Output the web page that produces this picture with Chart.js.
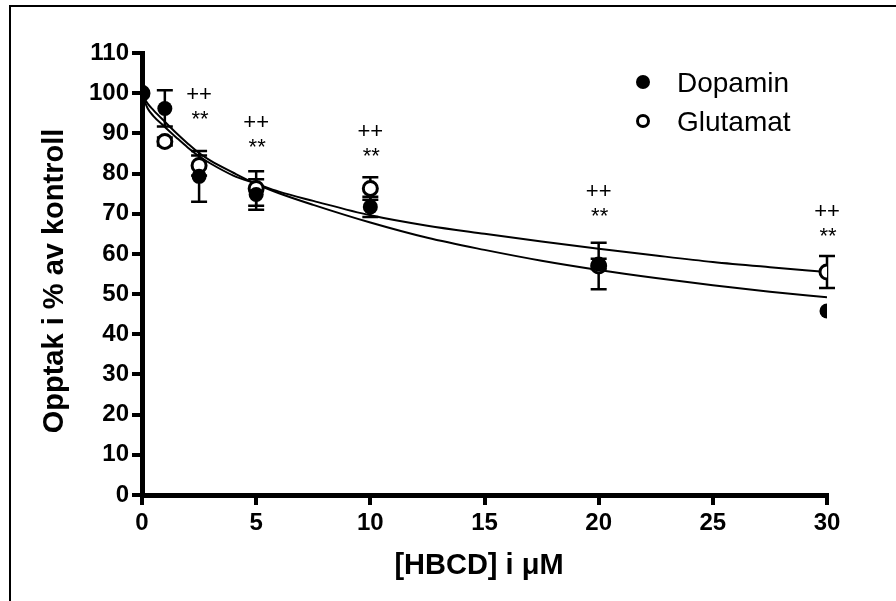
<!DOCTYPE html>
<html><head><meta charset="utf-8">
<script src="https://cdn.jsdelivr.net/npm/chart.js@4.4.0/dist/chart.umd.min.js"></script>
<style>html,body{margin:0;padding:0;background:#fff}canvas{display:block}</style>
</head><body>
<canvas id="c" width="896" height="601"></canvas>
<script>
// ---- data ----
const doses = [0, 1, 2.5, 5, 10, 20, 30];
const dopamin = [100, 96.2, 79.3, 74.8, 71.7, 57.5, 45.8];
const dopaminSem = [0, 4.5, 6.3, 3.8, 2.5, 1.3, 0];
const glutamat = [100, 88, 82, 76.3, 76.3, 57, 55.5];
const glutamatSem = [0, 1, 2.5, 4.3, 2.8, 5.8, 4.0];
const fitX = [0, 0.1, 0.25, 0.5, 1, 1.5, 2, 2.5, 3, 4, 5, 6, 7.5, 10, 12.5, 15, 17.5, 20, 22.5, 25, 27.5, 30];
const dopaminFit = [100, 98.8, 97.4, 95.8, 92.9, 90.1, 87.5, 85.1, 83.2, 80.2, 77.4, 75.1, 72.2, 67.8, 64.0, 61.0, 58.3, 56.0, 54.0, 52.2, 50.6, 49.2];
const glutamatFit = [100, 98.2, 96.2, 94.3, 91.6, 89.0, 86.5, 84.3, 82.5, 79.5, 77.5, 75.5, 73.2, 69.6, 67.0, 65.0, 63.1, 61.3, 59.6, 58.0, 56.7, 55.5];
const sigDoses = [2.5, 5, 10, 20, 30];
const sigLevel = [94.6, 87.6, 85.4, 70.5, 65.4];
const sigUpper = '++';
const sigLower = '**';
const seriesNames = ['Dopamin', 'Glutamat'];
const xTitle = '[HBCD] i \u03BCM';
const yTitle = 'Opptak i % av kontroll';

const FONT = "'Liberation Sans', Arial, sans-serif";
const pts = (xs, ys) => xs.map((x, i) => ({x, y: ys[i]}));

const decor = {
  id: 'decor',
  beforeDraw(chart) {
    const ctx = chart.ctx;
    ctx.save();
    ctx.fillStyle = '#fff';
    ctx.fillRect(0, 0, chart.width, chart.height);
    ctx.fillStyle = '#000';
    ctx.fillRect(9, 5, chart.width - 9, 2);
    ctx.fillRect(9, 5, 2, chart.height - 5);
    ctx.restore();
  },
  beforeDatasetsDraw(chart) {
    const ctx = chart.ctx, xs = chart.scales.x, ys = chart.scales.y;
    ctx.save();
    ctx.strokeStyle = '#000';
    ctx.lineWidth = 2.5;
    const bars = (vals, sems) => vals.forEach((v, i) => {
      if (!sems[i]) return;
      const px = xs.getPixelForValue(doses[i]);
      const t = ys.getPixelForValue(v + sems[i]), b = ys.getPixelForValue(v - sems[i]);
      ctx.beginPath();
      ctx.moveTo(px, t); ctx.lineTo(px, b);
      ctx.moveTo(px - 8, t); ctx.lineTo(px + 8, t);
      ctx.moveTo(px - 8, b); ctx.lineTo(px + 8, b);
      ctx.stroke();
    });
    bars(glutamat, glutamatSem);
    bars(dopamin, dopaminSem);
    ctx.restore();
  },
  afterDraw(chart) {
    const ctx = chart.ctx, xs = chart.scales.x, ys = chart.scales.y, a = chart.chartArea;
    ctx.save();
    ctx.fillStyle = '#000';
    // significance marks
    ctx.font = '22px ' + FONT;
    ctx.textAlign = 'center';
    ctx.textBaseline = 'alphabetic';
    sigDoses.forEach((d, i) => {
      const px = xs.getPixelForValue(d);
      const py = ys.getPixelForValue(sigLevel[i]);
      ctx.fillText(sigLower, px + 1, py + 11);
      ctx.fillText(sigUpper, px, py - 21.5 + 7.5);
    });
    // axis titles
    ctx.font = 'bold 29px ' + FONT;
    ctx.textAlign = 'center';
    ctx.fillText(xTitle, 479, 574);
    ctx.save();
    ctx.translate(63, 281);
    ctx.rotate(-Math.PI / 2);
    ctx.fillText(yTitle, 0, 0);
    ctx.restore();
    // legend
    ctx.font = '28px ' + FONT;
    ctx.textAlign = 'left';
    ctx.beginPath(); ctx.arc(643, 82, 7, 0, Math.PI * 2); ctx.fill();
    ctx.fillText(seriesNames[0], 677, 92);
    ctx.beginPath(); ctx.arc(643, 121, 5.5, 0, Math.PI * 2);
    ctx.lineWidth = 3; ctx.strokeStyle = '#000'; ctx.stroke();
    ctx.fillText(seriesNames[1], 677, 131);
    ctx.restore();
  }
};

const axisCommon = {
  grid: { drawOnChartArea: false, drawTicks: true, tickLength: 10, lineWidth: 4, color: '#000' },
  border: { display: true, width: 5, color: '#000' },
  ticks: { color: '#000', font: { family: FONT, size: 24, weight: 'bold' } }
};

new Chart(document.getElementById('c'), {
  type: 'scatter',
  data: {
    datasets: [
      { label: seriesNames[0] + ' fit', data: pts(fitX, dopaminFit), showLine: true, borderColor: '#000', borderWidth: 2, pointRadius: 0, cubicInterpolationMode: 'monotone', order: 3 },
      { label: seriesNames[1] + ' fit', data: pts(fitX, glutamatFit), showLine: true, borderColor: '#000', borderWidth: 2, pointRadius: 0, cubicInterpolationMode: 'monotone', order: 3 },
      { label: seriesNames[1], data: pts(doses, glutamat), pointRadius: 7, pointBackgroundColor: '#fff', pointBorderColor: '#000', pointBorderWidth: 3, order: 2 },
      { label: seriesNames[0], data: pts(doses, dopamin), pointRadius: 7.5, pointBackgroundColor: '#000', pointBorderColor: '#000', pointBorderWidth: 0, order: 1 }
    ]
  },
  options: {
    responsive: false,
    animation: false,
    devicePixelRatio: 1,
    layout: { padding: { top: 53, right: 69, left: 0, bottom: 0 } },
    plugins: { legend: { display: false }, tooltip: { enabled: false } },
    scales: {
      x: Object.assign({}, axisCommon, {
        type: 'linear', min: 0, max: 30,
        ticks: Object.assign({}, axisCommon.ticks, { stepSize: 5, padding: 4 }),
        afterFit(s) { s.height = 106; }
      }),
      y: Object.assign({}, axisCommon, {
        type: 'linear', min: 0, max: 110,
        ticks: Object.assign({}, axisCommon.ticks, { stepSize: 10, padding: 3 }),
        afterFit(s) { s.width = 142; }
      })
    }
  },
  plugins: [decor]
});
</script>
</body></html>
